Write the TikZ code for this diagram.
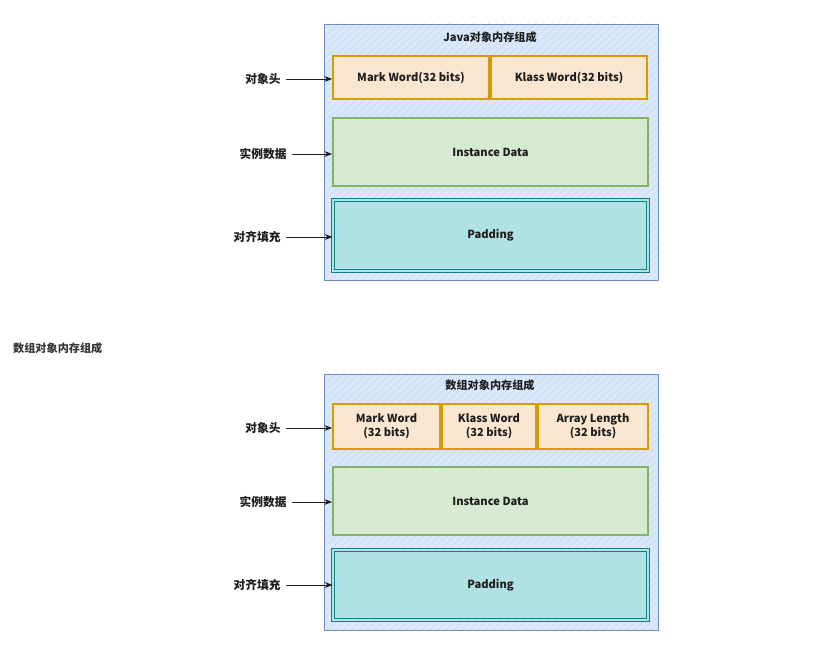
\documentclass[tikz,border=0pt]{standalone}
\usepackage{fontspec}
\setmainfont{Noto Sans CJK SC}
\usetikzlibrary{arrows.meta,patterns.meta}
\definecolor{framec}{RGB}{108,142,191}
\definecolor{framef}{RGB}{218,232,252}
\definecolor{headc}{RGB}{215,155,0}
\definecolor{headf}{RGB}{250,230,210}
\definecolor{datac}{RGB}{130,179,102}
\definecolor{dataf}{RGB}{215,234,210}
\definecolor{padc}{RGB}{14,128,136}
\definecolor{padf}{RGB}{176,227,230}
\definecolor{inkc}{RGB}{30,30,30}

\tikzset{
  hatch/.style={pattern={Lines[angle=42, distance=4.5pt, line width=0.3pt]}, pattern color=#1},
  memframe/.style={draw=framec, line width=0.8pt,
    preaction={fill=framef}, preaction={hatch=framec!40}},
  headbox/.style={draw=headc, line width=1.4pt, align=center,
    preaction={fill=headf}, preaction={hatch=headc!25}},
  databox/.style={draw=datac, line width=1.4pt,
    preaction={fill=dataf}, preaction={hatch=datac!35}},
  padbox/.style={draw=padc, double=padf, double distance=1.2pt, line width=0.7pt,
    preaction={fill=padf}, preaction={hatch=padc!30}},
  sidelbl/.style={font=\fontsize{10}{12}\selectfont\bfseries, text=inkc, anchor=east, inner sep=1pt},
  boxtxt/.style={font=\fontsize{9.5}{12}\selectfont\bfseries, text=inkc},
  pointer/.style={->, inkc, line width=0.8pt, shorten <=4pt},
}

\begin{document}
\begin{tikzpicture}[x=0.03cm, y=-0.03cm, >=Stealth, line cap=round]
  \useasboundingbox[fill=white] (0,0) rectangle (823,648);

  % ---- Java object layout (top)
  \node[memframe, minimum width=10.02cm, minimum height=7.68cm] (obj1) at (491,152) {};
  \node[boxtxt] (ttl1) at (490,37) {Java对象内存组成};
  \node[headbox, minimum width=4.68cm, minimum height=1.29cm] (mark1)  at (411,77.5) {};
  \node[headbox, minimum width=4.68cm, minimum height=1.29cm] (klass1) at (569,77.5) {};
  \node[boxtxt] at (mark1)  {Mark Word(32 bits)};
  \node[boxtxt] at (klass1) {Klass Word(32 bits)};
  \node[databox, minimum width=9.45cm, minimum height=2.04cm] (data1) at (490.5,152) {};
  \node[boxtxt] at (data1) {Instance Data};
  \node[padbox, minimum width=9.45cm, minimum height=2.13cm] (pad1) at (490.5,235.5) {};
  \node[boxtxt] at (pad1) {Padding};

  % side labels + arrows
  \node[sidelbl] (hd1)  at (282,79)  {对象头};
  \node[sidelbl] (dt1)  at (288,154) {实例数据};
  \node[sidelbl] (pd1)  at (282,237) {对齐填充};
  \draw[pointer] (hd1) -- (hd1 -| mark1.west);
  \draw[pointer] (dt1) -- (dt1 -| data1.west);
  \draw[pointer] (pd1) -- (pd1 -| pad1.west);

  % caption between the two pictures
  \node[font=\fontsize{9.5}{12}\selectfont\bfseries, text=inkc!90, anchor=west, inner sep=0pt] (cap) at (13,348) {数组对象内存组成};

  % ---- array object layout (bottom)
  \node[memframe, minimum width=10.02cm, minimum height=7.68cm] (obj2) at (491,502) {};
  \node[boxtxt] (ttl2) at (490,385) {数组对象内存组成};
  \node[headbox, minimum width=3.21cm, minimum height=1.35cm] (mark2)  at (386.5,426.5) {};
  \node[headbox, minimum width=2.82cm, minimum height=1.35cm] (klass2) at (489,426.5) {};
  \node[headbox, minimum width=3.3cm,  minimum height=1.35cm] (len2)   at (593,426.5) {};
  \node[boxtxt, align=center] at (mark2)  {Mark Word\\(32 bits)};
  \node[boxtxt, align=center] at (klass2) {Klass Word\\(32 bits)};
  \node[boxtxt, align=center] at (len2)   {Array Length\\(32 bits)};
  \node[databox, minimum width=9.45cm, minimum height=2.04cm] (data2) at (490.5,501) {};
  \node[boxtxt] at (data2) {Instance Data};
  \node[padbox, minimum width=9.45cm, minimum height=2.1cm] (pad2) at (490.5,585) {};
  \node[boxtxt] at (pad2) {Padding};

  \node[sidelbl] (hd2)  at (282,428) {对象头};
  \node[sidelbl] (dt2)  at (288,502) {实例数据};
  \node[sidelbl] (pd2)  at (282,585) {对齐填充};
  \draw[pointer] (hd2) -- (hd2 -| mark2.west);
  \draw[pointer] (dt2) -- (dt2 -| data2.west);
  \draw[pointer] (pd2) -- (pd2 -| pad2.west);

\end{tikzpicture}
\end{document}
